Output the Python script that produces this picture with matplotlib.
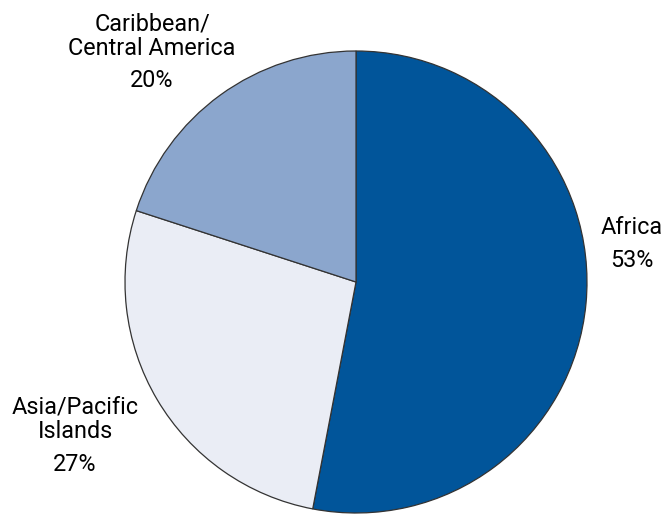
import matplotlib.pyplot as plt

# data
regions = ['Africa', 'Asia/Pacific\nIslands', 'Caribbean/\nCentral America']
shares = [53, 27, 20]
colors = ['#01559a', '#eaedf5', '#8ba6cd']

plt.rcParams['font.family'] = ['Roboto', 'DejaVu Sans']

fig = plt.figure(figsize=(6.67, 5.15), dpi=100)
# square axes so the pie sits where it does in the reference
ax = fig.add_axes([125 / 667, 2 / 515, 462 / 667, 462 / 515])

ax.pie(shares, colors=colors, startangle=90, counterclock=False,
       wedgeprops={'edgecolor': '#333333', 'linewidth': 0.9})
ax.set_xlim(-1, 1)
ax.set_ylim(-1, 1)
ax.set_aspect('equal')
ax.axis('off')

# label anchors (name centre, pct centre) in data units
label_pos = [(1.195, 0.234, 0.095),
             (-1.216, -0.595, -0.79),
             (-0.883, 1.065, 0.872)]
fs = 16.8
for name, pct, (x, yn, yp) in zip(regions, shares, label_pos):
    ax.text(x, yn, name, ha='center', va='center', fontsize=fs,
            linespacing=1.08, clip_on=False)
    ax.text(x, yp, f'{pct}%', ha='center', va='center', fontsize=fs,
            clip_on=False)

fig.savefig('out.png', dpi=100)
